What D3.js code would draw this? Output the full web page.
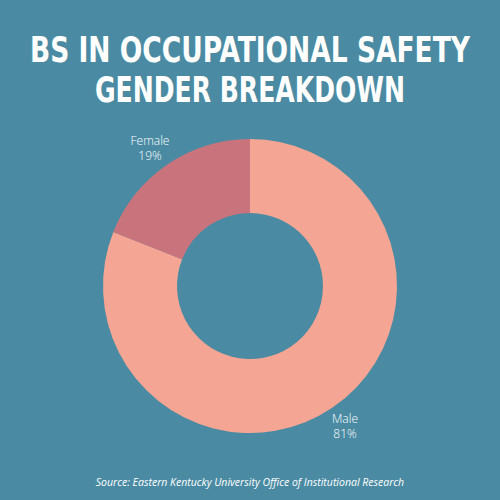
<!DOCTYPE html>
<html><head><meta charset="utf-8">
<script src="https://cdn.jsdelivr.net/npm/d3@7"></script>
<style>body{margin:0;background:#4a8ba3}</style>
</head><body>
<svg id="c" width="500" height="500"></svg>
<script>
var categories = ['Male', 'Female'];
var values = [81, 19];
var colors = ['#f4a593', '#c9747c'];

var svg = d3.select('#c');
svg.append('rect').attr('width', 500).attr('height', 500).attr('fill', '#4a8ba3');

// title
var title = ['BS IN OCCUPATIONAL SAFETY', 'GENDER BREAKDOWN'];
svg.selectAll('.title').data(title).enter().append('text')
  .attr('x', 250).attr('y', function(d, i) { return 62 + i * 40; })
  .attr('text-anchor', 'middle').attr('fill', '#fff')
  .attr('font-family', 'DejaVu Sans Condensed, DejaVu Sans').attr('font-weight', 'bold')
  .attr('font-size', 35).attr('textLength', function(d, i) { return i ? 310 : 440; })
  .attr('lengthAdjust', 'spacingAndGlyphs')
  .text(function(d) { return d; });

var cx = 250, cy = 286, outer = 147, inner = 73;
var pie = d3.pie().sort(null).value(function(d) { return d; });
var arcs = pie(values);
var arc = d3.arc().innerRadius(inner).outerRadius(outer);
var g = svg.append('g').attr('transform', 'translate(' + cx + ',' + cy + ')');
g.selectAll('path').data(arcs).enter().append('path')
  .attr('d', arc).attr('fill', function(d, i) { return colors[i]; });

// labels outside
var labelArc = d3.arc().innerRadius(outer + 20).outerRadius(outer + 20);
arcs.forEach(function(a, i) {
  var p = labelArc.centroid(a);
  var t = g.append('text').attr('text-anchor', 'middle').attr('fill', '#fff')
    .attr('font-family', 'Open Sans').attr('font-weight', 300).attr('font-size', 12);
  var x = i === 0 ? 95 : -100, y = i === 0 ? 137 : -141;
  t.append('tspan').attr('x', x).attr('y', y).text(categories[i]);
  t.append('tspan').attr('x', x).attr('y', y + 15).text(values[i] + '%');
});

svg.append('text').attr('x', 250).attr('y', 486).attr('text-anchor', 'middle')
  .attr('fill', '#fff').attr('font-family', 'Open Sans').attr('font-style', 'italic')
  .attr('font-size', 10.5).text('Source: Eastern Kentucky University Office of Institutional Research');
</script>
</body></html>
